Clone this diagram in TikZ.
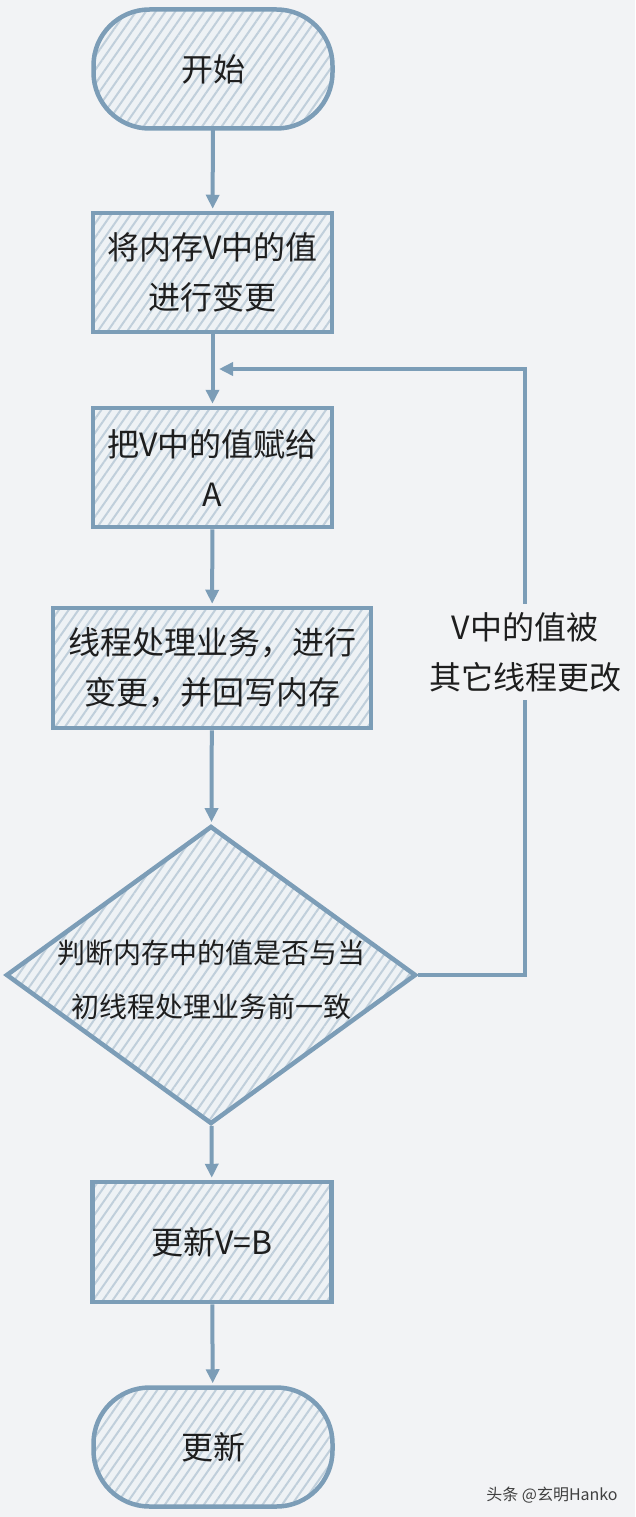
\documentclass[tikz,border=0pt]{standalone}
\usepackage{fontspec}
\setmainfont{Noto Sans CJK SC}
\usetikzlibrary{arrows.meta,patterns.meta,shapes.geometric}
\definecolor{bg}{RGB}{242,243,245}
\definecolor{edge}{RGB}{124,157,183}
\definecolor{hatch}{RGB}{192,207,219}
\definecolor{base}{RGB}{238,242,245}
\definecolor{ink}{RGB}{30,30,30}
\tikzset{
 hatched/.style={preaction={fill=base}, pattern={Lines[angle=55,distance=8pt,line width=2pt]}, pattern color=hatch},
 box/.style={draw=edge, line width=4.5pt, hatched, minimum width=239pt, minimum height=119pt, align=center, font=\fontsize{32}{50}\selectfont, text=ink, inner sep=0pt},
 term/.style={box, rounded corners=56pt},
 decide/.style={diamond, draw=edge, line width=4.5pt, hatched, minimum width=410pt, minimum height=298pt, inner sep=0pt},
 arr/.style={draw=edge, line width=4pt, shorten >=2pt, -{Triangle[length=14pt,width=13pt]}},
 lbl/.style={font=\fontsize{32}{50}\selectfont, text=ink, align=center, fill=bg, inner sep=8pt},
}
\begin{document}
\begin{tikzpicture}[x=1pt,y=-1pt]
\fill[bg] (0,0) rectangle (635,1517);
\useasboundingbox (0,0) rectangle (635,1517);
\node[term] (start) at (213,69) {开始};
\node[box] (b1) at (212.5,272.5) {将内存V中的值\\进行变更};
\node[box] (b2) at (212.5,467.5) {把V中的值赋给\\A};
\node[box, minimum width=318pt, minimum height=120pt] (b3) at (212,668) {线程处理业务，进行\\变更，并回写内存};
\node[decide] (dia) at (211,975) {};
\node[font=\fontsize{28}{54}\selectfont, text=ink, align=center] (diat) at (211,980) {判断内存中的值是否与当\\初线程处理业务前一致};
\node[box, minimum height=120pt] (b4) at (212,1242) {更新V=B};
\node[term] (end) at (213,1447) {更新};
\coordinate (loopin) at (217,369);
\draw[arr] (start) -- (b1);
\draw[arr] (b1) -- (b2);
\draw[arr] (b2) -- (b3);
\draw[arr] (b3) -- (dia);
\draw[arr] (dia) -- (b4);
\draw[arr] (b4) -- (end);
\draw[arr] (dia.east) -- ++(107,0) coordinate (lc) |- (loopin);
\node[lbl] (lab) at (525,652) {V中的值被\\其它线程更改};
\node[font=\fontsize{16}{16}\selectfont, text=black!75] (wm) at (552,1495) {头条 @玄明Hanko};
\end{tikzpicture}
\end{document}
